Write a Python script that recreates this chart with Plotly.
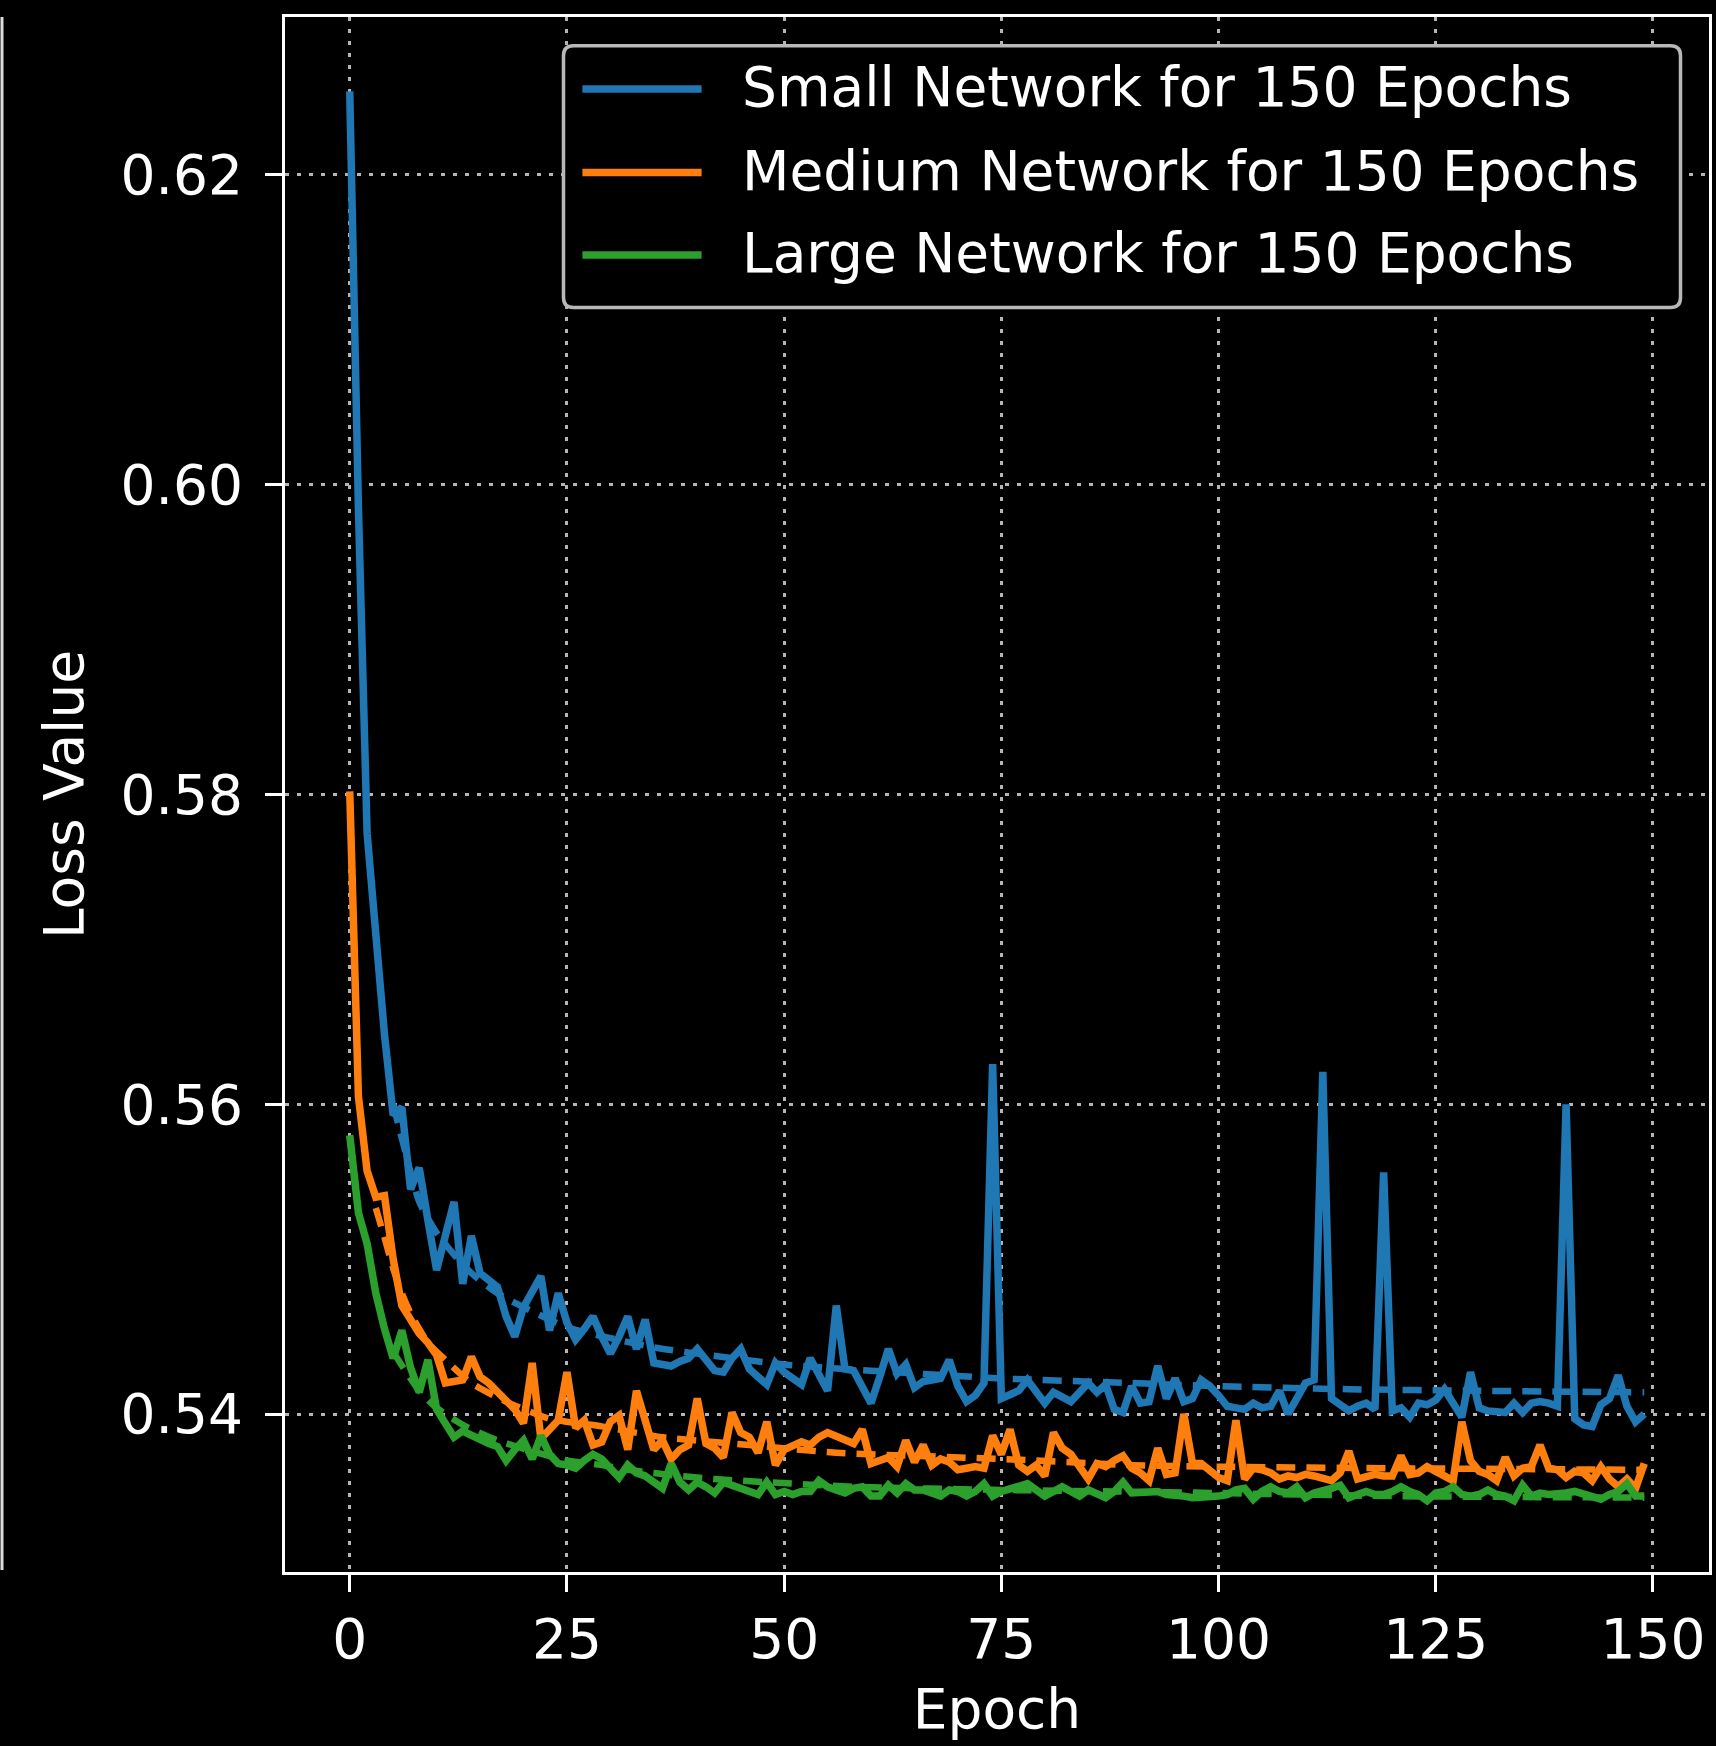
import plotly.graph_objects as go

# ---------------- data ----------------
epochs = list(range(150))

small_loss = [
    0.6254, 0.5985, 0.5775, 0.5705, 0.5645, 0.5593, 0.5598, 0.5545, 0.5559, 0.5525,
    0.5493, 0.5515, 0.5537, 0.5484, 0.5515, 0.5491, 0.5487, 0.5482, 0.5463, 0.5450,
    0.5469, 0.5478, 0.5489, 0.5454, 0.5478, 0.5459, 0.5448, 0.5455, 0.5463, 0.5450,
    0.5439, 0.5450, 0.5463, 0.5442, 0.5461, 0.5433, 0.5432, 0.5431, 0.5434, 0.5436,
    0.5442, 0.5435, 0.5428, 0.5427, 0.5436, 0.5442, 0.5429, 0.5424, 0.5419, 0.5433,
    0.5427, 0.5423, 0.5419, 0.5436, 0.5425, 0.5415, 0.5470, 0.5429, 0.5428, 0.5417,
    0.5407, 0.5424, 0.5442, 0.5426, 0.5432, 0.5417, 0.5421, 0.5422, 0.5423, 0.5435,
    0.5418, 0.5408, 0.5412, 0.5420, 0.5626, 0.5410, 0.5413, 0.5415, 0.5422, 0.5415,
    0.5407, 0.5414, 0.5411, 0.5408, 0.5414, 0.5420, 0.5414, 0.5419, 0.5403, 0.5401,
    0.5418, 0.5407, 0.5408, 0.5431, 0.5410, 0.5423, 0.5408, 0.5410, 0.5422, 0.5418,
    0.5412, 0.5405, 0.5404, 0.5403, 0.5407, 0.5404, 0.5405, 0.5415, 0.5400, 0.5410,
    0.5420, 0.5422, 0.5621, 0.5410, 0.5406, 0.5402, 0.5405, 0.5407, 0.5403, 0.5556,
    0.5402, 0.5404, 0.5398, 0.5407, 0.5406, 0.5409, 0.5416, 0.5408, 0.5398, 0.5427,
    0.5404, 0.5402, 0.5402, 0.5401, 0.5407, 0.5401, 0.5407, 0.5408, 0.5407, 0.5405,
    0.5600, 0.5397, 0.5393, 0.5392, 0.5406, 0.5410, 0.5425, 0.5405, 0.5395, 0.5400,
]

medium_loss = [
    0.5802, 0.5605, 0.5557, 0.5540, 0.5541, 0.5500, 0.5470, 0.5460, 0.5452, 0.5446,
    0.5438, 0.5420, 0.5421, 0.5422, 0.5437, 0.5424, 0.5420, 0.5414, 0.5408, 0.5403,
    0.5394, 0.5433, 0.5384, 0.5390, 0.5396, 0.5427, 0.5391, 0.5396, 0.5380, 0.5382,
    0.5395, 0.5399, 0.5377, 0.5415, 0.5396, 0.5377, 0.5383, 0.5371, 0.5377, 0.5380,
    0.5410, 0.5381, 0.5378, 0.5372, 0.5401, 0.5388, 0.5385, 0.5375, 0.5395, 0.5367,
    0.5377, 0.5380, 0.5382, 0.5380, 0.5385, 0.5388, 0.5386, 0.5383, 0.5381, 0.5390,
    0.5368, 0.5370, 0.5372, 0.5366, 0.5383, 0.5369, 0.5380, 0.5367, 0.5371, 0.5369,
    0.5364, 0.5365, 0.5366, 0.5365, 0.5386, 0.5374, 0.5390, 0.5367, 0.5363, 0.5367,
    0.5360, 0.5388, 0.5378, 0.5374, 0.5365, 0.5358, 0.5368, 0.5366, 0.5370, 0.5373,
    0.5365, 0.5362, 0.5357, 0.5378, 0.5361, 0.5362, 0.5400, 0.5368, 0.5368, 0.5363,
    0.5359, 0.5357, 0.5396, 0.5358, 0.5365, 0.5364, 0.5362, 0.5358, 0.5360, 0.5359,
    0.5361, 0.5360, 0.5359, 0.5357, 0.5362, 0.5376, 0.5358, 0.5359, 0.5361, 0.5360,
    0.5360, 0.5373, 0.5361, 0.5362, 0.5366, 0.5363, 0.5360, 0.5357, 0.5395, 0.5370,
    0.5363, 0.5361, 0.5357, 0.5372, 0.5360, 0.5365, 0.5366, 0.5380, 0.5365, 0.5364,
    0.5359, 0.5363, 0.5362, 0.5357, 0.5366, 0.5358, 0.5353, 0.5358, 0.5352, 0.5368,
]

large_loss = [
    0.5580, 0.5530, 0.5510, 0.5478, 0.5455, 0.5436, 0.5454, 0.5430, 0.5414, 0.5435,
    0.5403, 0.5395, 0.5385, 0.5389, 0.5386, 0.5384, 0.5381, 0.5379, 0.5370, 0.5377,
    0.5383, 0.5371, 0.5386, 0.5374, 0.5368, 0.5367, 0.5365, 0.5370, 0.5374, 0.5371,
    0.5365, 0.5359, 0.5367, 0.5362, 0.5360, 0.5356, 0.5352, 0.5368, 0.5356, 0.5351,
    0.5356, 0.5353, 0.5349, 0.5356, 0.5354, 0.5353, 0.5351, 0.5348, 0.5356, 0.5348,
    0.5350, 0.5348, 0.5350, 0.5350, 0.5357, 0.5353, 0.5351, 0.5349, 0.5352, 0.5353,
    0.5347, 0.5347, 0.5354, 0.5349, 0.5355, 0.5351, 0.5351, 0.5349, 0.5347, 0.5351,
    0.5350, 0.5347, 0.5350, 0.5355, 0.5347, 0.5350, 0.5352, 0.5353, 0.5355, 0.5351,
    0.5347, 0.5350, 0.5353, 0.5350, 0.5347, 0.5351, 0.5349, 0.5346, 0.5350, 0.5356,
    0.5349, 0.5349, 0.5350, 0.5350, 0.5348, 0.5348, 0.5347, 0.5346, 0.5346, 0.5347,
    0.5347, 0.5348, 0.5351, 0.5352, 0.5345, 0.5350, 0.5353, 0.5350, 0.5349, 0.5353,
    0.5346, 0.5349, 0.5350, 0.5352, 0.5354, 0.5346, 0.5348, 0.5350, 0.5348, 0.5348,
    0.5350, 0.5353, 0.5350, 0.5348, 0.5344, 0.5349, 0.5350, 0.5353, 0.5348, 0.5347,
    0.5348, 0.5351, 0.5348, 0.5347, 0.5344, 0.5354, 0.5347, 0.5349, 0.5348, 0.5348,
    0.5349, 0.5350, 0.5348, 0.5346, 0.5345, 0.5348, 0.5350, 0.5355, 0.5347, 0.5347,
]

# dashed trend curves, read at selected epochs
small_trend_epochs = [5, 6, 8, 10, 12, 14, 17, 20, 25, 30, 35, 40, 50, 60, 75, 90, 100, 115, 130, 149]
small_trend = [0.5600, 0.5578, 0.5537, 0.5517, 0.5503, 0.5491, 0.5478, 0.5469, 0.5456, 0.5449,
               0.5443, 0.5439, 0.5432, 0.5428, 0.5423, 0.5420, 0.5418, 0.5416, 0.5415, 0.5414]

medium_trend_epochs = [3, 4, 5, 6, 7, 9, 11, 14, 18, 23, 29, 36, 46, 56, 75, 90, 100, 120, 149]
medium_trend = [0.5533, 0.5514, 0.5494, 0.5478, 0.5465, 0.5446, 0.5435, 0.5420, 0.5408, 0.5397,
                0.5392, 0.5385, 0.5380, 0.5375, 0.5371, 0.5367, 0.5366, 0.5365, 0.5364]

large_trend_epochs = [5, 8, 10, 13, 17, 21, 25, 29, 32, 38, 42, 48, 58, 75, 88, 100, 120, 149]
large_trend = [0.5440, 0.5415, 0.5404, 0.5393, 0.5383, 0.5376, 0.5370, 0.5367, 0.5364, 0.5360,
               0.5358, 0.5356, 0.5353, 0.5351, 0.5350, 0.5349, 0.5347, 0.5346]

series_names = ["Small Network for 150 Epochs",
                "Medium Network for 150 Epochs",
                "Large Network for 150 Epochs"]
colors = ["#1f77b4", "#ff7f0e", "#2ca02c"]

x_ticks = [0, 25, 50, 75, 100, 125, 150]
y_ticks = [0.54, 0.56, 0.58, 0.60, 0.62]

# ---------------- figure ----------------
FONT = "DejaVu Sans"
fig = go.Figure()

solid = [small_loss, medium_loss, large_loss]
trend_x = [small_trend_epochs, medium_trend_epochs, large_trend_epochs]
trend_y = [small_trend, medium_trend, large_trend]

for name, col, ys, tx, ty in zip(series_names, colors, solid, trend_x, trend_y):
    fig.add_trace(go.Scatter(x=epochs, y=ys, mode="lines", name=name,
                             line=dict(color=col, width=7.5), showlegend=False))
    fig.add_trace(go.Scatter(x=tx, y=ty, mode="lines", name=name + " (trend)",
                             line=dict(color=col, width=6.5, dash="19px,11px",
                                       shape="spline", smoothing=0.6),
                             showlegend=False))

W, H = 1716, 1746
L, R, T, B = 285, 7, 17, 174
pw, ph = W - L - R, H - T - B


def px(xp):
    return (xp - L) / pw


def py(yp):
    return 1 - (yp - T) / ph


shapes = []
annotations = []

# legend frame (rounded)
x0, x1 = px(563.5), px(1680.5)
y0, y1 = py(307.4), py(45.7)
rx, ry = 10 / pw, 10 / ph
path = (f"M {x0+rx},{y1} L {x1-rx},{y1} Q {x1},{y1} {x1},{y1-ry} "
        f"L {x1},{y0+ry} Q {x1},{y0} {x1-rx},{y0} L {x0+rx},{y0} "
        f"Q {x0},{y0} {x0},{y0+ry} L {x0},{y1-ry} Q {x0},{y1} {x0+rx},{y1} Z")
shapes.append(dict(type="path", xref="paper", yref="paper", path=path,
                   line=dict(color="#b8b8b8", width=3.5), fillcolor="black", layer="above"))

row_y = [89.1, 172.6, 255.0]
for name, col, ry_ in zip(series_names, colors, row_y):
    shapes.append(dict(type="line", xref="paper", yref="paper",
                       x0=px(582.4), x1=px(701.6), y0=py(ry_), y1=py(ry_),
                       line=dict(color=col, width=7.5), layer="above"))
    annotations.append(dict(text=name, xref="paper", yref="paper",
                            x=px(740.0), y=py(ry_ - 2), xanchor="left", yanchor="middle",
                            showarrow=False, font=dict(family=FONT, size=55, color="white")))

# thin frame line at far left edge of the canvas
shapes.append(dict(type="line", xref="paper", yref="paper",
                   x0=px(2), x1=px(2), y0=py(17), y1=py(1570),
                   line=dict(color="#dddddd", width=3)))

fig.update_layout(
    width=W, height=H,
    margin=dict(l=L, r=R, t=T, b=B, autoexpand=False),
    paper_bgcolor="black", plot_bgcolor="black",
    font=dict(family=FONT, size=55, color="white"),
    showlegend=False,
    shapes=shapes, annotations=annotations,
)

axis_common = dict(
    showline=True, mirror=True, linecolor="white", linewidth=3,
    ticks="outside", ticklen=17, tickwidth=2.5, tickcolor="white",
    showgrid=True, gridcolor="#b5b5b5", gridwidth=3, griddash="4px,8px",
    zeroline=False, tickfont=dict(family=FONT, size=55, color="white"),
)

fig.update_xaxes(range=[-7.45, 156.45], tickvals=x_ticks,
                 ticktext=[str(v) for v in x_ticks],
                 title=dict(text="Epoch", font=dict(family=FONT, size=55, color="white"),
                            standoff=20),
                 **axis_common)
fig.update_yaxes(range=[0.5298, 0.6302], tickvals=y_ticks,
                 ticktext=[f"{v:.2f}" for v in y_ticks],
                 ticklabelstandoff=11,
                 title=dict(text="Loss Value", font=dict(family=FONT, size=55, color="white"),
                            standoff=20),
                 **axis_common)

fig.write_html("out.html")
